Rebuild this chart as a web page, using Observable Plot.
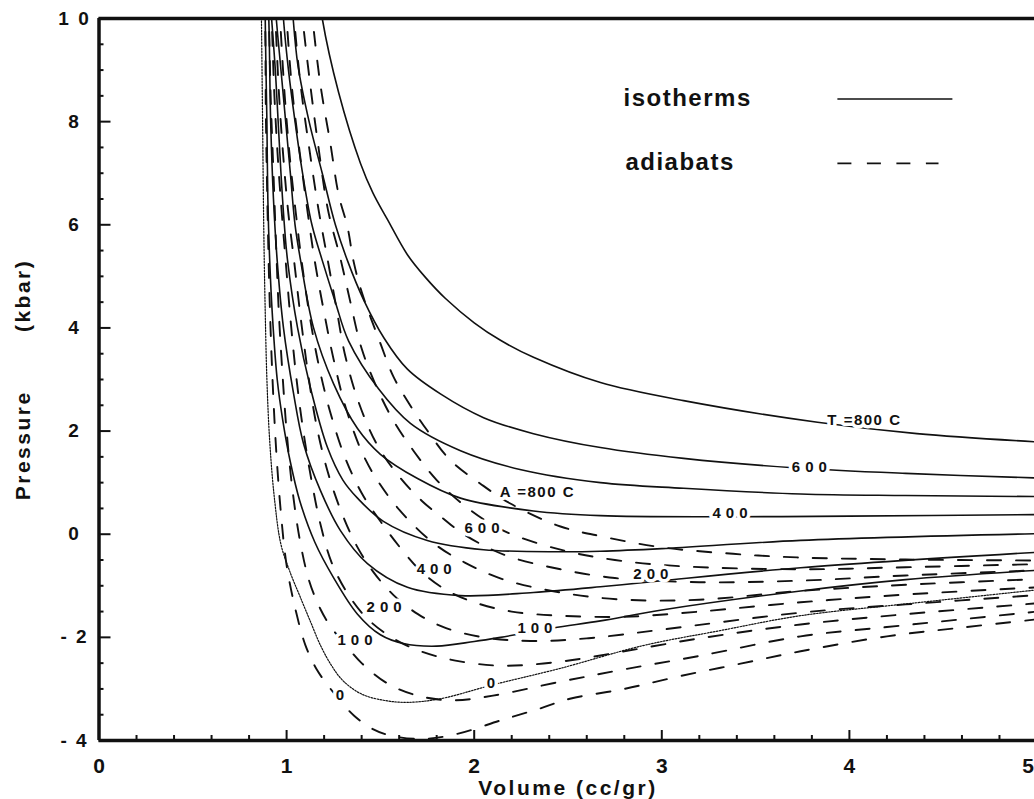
<!DOCTYPE html>
<html>
<head>
<meta charset="utf-8">
<script src="https://cdn.jsdelivr.net/npm/d3@7"></script>
<script src="https://cdn.jsdelivr.net/npm/@observablehq/plot@0.6"></script>
<style>
  html, body { margin: 0; padding: 0; background: #fff; overflow: hidden; }
  #chart svg { display: block; }
</style>
</head>
<body>
<div id="chart"></div>
<script>
// Isotherms of water, volume (cc/gr) vs pressure (kbar); one array per temperature (°C)
const iso0 = [[0.865,10.3],[0.872,8],[0.878,6],[0.885,4.5],[0.895,3],[0.91,1.8],[0.935,0.7],[0.97,-0.2],[1.02,-0.75],[1.074,-1.23],[1.13,-1.72],[1.18,-2.15],[1.24,-2.55],[1.303,-2.85],[1.40,-3.1],[1.516,-3.22],[1.644,-3.26],[1.82,-3.19],[2.10,-2.92],[2.46,-2.6],[2.90,-2.16],[3.31,-1.87],[3.74,-1.58],[4.33,-1.34],[5.0,-1.08]];
const iso100 = [[0.885,10.3],[0.89,9],[0.895,8],[0.90,6.5],[0.91,5.3],[0.925,4.2],[0.95,3.0],[0.98,2.2],[1.02,1.4],[1.07,0.65],[1.15,-0.15],[1.25,-0.84],[1.378,-1.55],[1.50,-1.95],[1.623,-2.12],[1.80,-2.17],[2.0,-2.08],[2.14,-2.0],[2.42,-1.82],[2.673,-1.68],[3.0,-1.47],[3.74,-1.10],[4.3,-0.88],[5.0,-0.70]];
const iso200 = [[0.90,10.3],[0.905,10],[0.915,8],[0.93,6.5],[0.95,5.3],[0.983,4.01],[1.037,2.73],[1.09,1.76],[1.18,0.85],[1.287,0.07],[1.431,-0.57],[1.644,-1.03],[1.927,-1.19],[2.316,-1.13],[2.673,-1.02],[3.0,-0.90],[3.74,-0.65],[5.0,-0.35]];
const iso300 = [[0.915,10.3],[0.92,10],[0.94,9],[0.955,8],[0.97,7],[0.988,6],[1.005,5.31],[1.058,4.01],[1.127,2.84],[1.218,1.68],[1.30,1.05],[1.378,0.70],[1.516,0.25],[1.75,-0.12],[2.05,-0.30],[2.46,-0.34],[2.673,-0.33],[3.0,-0.28],[3.74,-0.12],[5.0,0.01]];
const iso400 = [[0.94,10.3],[0.945,10],[0.97,9],[0.995,8],[1.02,7],[1.045,6],[1.075,5.3],[1.143,4.01],[1.25,2.92],[1.378,2.05],[1.50,1.55],[1.698,1.08],[1.927,0.70],[2.316,0.45],[2.673,0.36],[3.39,0.34],[4.0,0.35],[5.0,0.38]];
const iso500 = [[0.978,10.3],[0.983,10],[1.01,9],[1.045,8],[1.085,7],[1.135,6],[1.19,5.31],[1.26,4.5],[1.33,3.75],[1.49,2.82],[1.66,2.15],[1.927,1.62],[2.25,1.25],[2.673,1.0],[3.116,0.89],[3.74,0.78],[4.3,0.75],[5.0,0.73]];
const iso600 = [[1.03,10.3],[1.035,10],[1.06,9.1],[1.12,8.0],[1.19,7.0],[1.26,6.0],[1.325,5.3],[1.41,4.55],[1.52,3.8],[1.644,3.2],[1.82,2.72],[2.05,2.26],[2.316,1.95],[2.673,1.68],[3.116,1.47],[3.70,1.29],[4.3,1.18],[5.0,1.09]];
const iso800 = [[1.18,10.3],[1.19,10],[1.277,8.57],[1.394,7.19],[1.46,6.62],[1.538,6.1],[1.644,5.42],[1.74,4.98],[1.847,4.57],[2.0,4.1],[2.14,3.76],[2.316,3.43],[2.673,2.94],[3.116,2.59],[3.83,2.17],[4.36,1.95],[5.0,1.79]];

// Adiabats, one array per starting temperature (°C)
const ad0 = [[0.88,10.3],[0.885,10],[0.89,8],[0.90,6],[0.91,4.5],[0.925,3],[0.945,1.6],[0.97,0.4],[1.0,-0.6],[1.05,-1.5],[1.10,-2.15],[1.16,-2.62],[1.22,-2.93],[1.29,-3.25],[1.36,-3.52],[1.45,-3.76],[1.55,-3.9],[1.72,-3.97],[1.90,-3.88],[2.15,-3.6],[2.35,-3.38],[2.51,-3.19],[2.8,-3.0],[3.1,-2.75],[3.42,-2.51],[3.74,-2.27],[4.2,-1.98],[4.6,-1.81],[5.0,-1.65]];
const ad100 = [[0.90,10.3],[0.905,10],[0.915,8.5],[0.93,7],[0.945,5.5],[0.96,4.2],[0.98,3.0],[1.0,2.0],[1.03,0.9],[1.07,-0.1],[1.12,-0.9],[1.18,-1.45],[1.24,-1.82],[1.30,-2.08],[1.40,-2.5],[1.55,-2.92],[1.72,-3.15],[1.90,-3.22],[2.1,-3.13],[2.46,-2.86],[2.8,-2.62],[3.2,-2.36],[3.74,-1.98],[4.2,-1.80],[4.6,-1.65],[5.0,-1.50]];
const ad200 = [[0.915,10.3],[0.92,10],[0.935,8.5],[0.955,7.2],[0.975,6.2],[0.995,5.3],[1.02,4.2],[1.05,3.1],[1.085,2.1],[1.13,1.1],[1.18,0.2],[1.24,-0.55],[1.32,-1.12],[1.42,-1.6],[1.55,-1.98],[1.70,-2.25],[1.90,-2.45],[2.15,-2.55],[2.46,-2.47],[2.8,-2.27],[3.2,-2.02],[3.74,-1.75],[4.3,-1.55],[5.0,-1.34]];
const ad300 = [[0.935,10.3],[0.94,10],[0.96,8.5],[0.985,7.2],[1.01,6.2],[1.04,5.3],[1.075,4.2],[1.115,3.1],[1.16,2.1],[1.22,1.2],[1.29,0.45],[1.37,-0.2],[1.46,-0.72],[1.57,-1.18],[1.70,-1.55],[1.85,-1.82],[2.05,-2.0],[2.3,-2.07],[2.6,-2.02],[3.0,-1.85],[3.74,-1.52],[4.3,-1.36],[5.0,-1.18]];
const ad400 = [[0.96,10.3],[0.965,10],[0.99,8.5],[1.02,7.2],[1.05,6.2],[1.08,5.3],[1.12,4.3],[1.17,3.3],[1.23,2.4],[1.31,1.5],[1.40,0.8],[1.50,0.25],[1.61,-0.28],[1.72,-0.73],[1.85,-1.08],[2.0,-1.32],[2.2,-1.50],[2.46,-1.58],[2.8,-1.60],[3.2,-1.50],[3.74,-1.32],[4.3,-1.17],[5.0,-1.03]];
const ad500 = [[0.995,10.3],[1.0,10],[1.03,8.6],[1.07,7.4],[1.11,6.3],[1.15,5.3],[1.20,4.3],[1.25,3.4],[1.32,2.4],[1.42,1.45],[1.54,0.75],[1.67,0.20],[1.80,-0.22],[1.95,-0.55],[2.15,-0.87],[2.46,-1.13],[2.8,-1.27],[3.2,-1.27],[3.74,-1.10],[4.3,-0.98],[5.0,-0.87]];
const ad600 = [[1.035,10.3],[1.04,10],[1.075,8.7],[1.12,7.5],[1.17,6.3],[1.22,5.3],[1.265,4.4],[1.31,3.5],[1.38,2.6],[1.48,1.75],[1.60,1.12],[1.72,0.65],[1.836,0.30],[1.916,0.07],[2.05,-0.22],[2.2,-0.45],[2.46,-0.68],[2.75,-0.85],[3.2,-0.93],[3.74,-0.90],[4.3,-0.80],[5.0,-0.70]];
const ad700 = [[1.078,10.3],[1.085,10],[1.128,8.66],[1.17,7.5],[1.22,6.3],[1.29,5.3],[1.34,4.5],[1.40,3.6],[1.48,2.85],[1.57,2.2],[1.68,1.6],[1.80,1.05],[1.95,0.55],[2.15,0.08],[2.46,-0.30],[2.75,-0.50],[3.1,-0.62],[3.74,-0.68],[4.3,-0.64],[5.0,-0.58]];
const ad800 = [[1.13,10.3],[1.138,10],[1.18,8.72],[1.234,7.56],[1.277,6.59],[1.325,5.95],[1.357,5.29],[1.40,4.70],[1.50,3.70],[1.57,3.05],[1.65,2.55],[1.75,2.01],[1.874,1.43],[2.033,0.98],[2.19,0.60],[2.46,0.15],[2.69,-0.05],[2.99,-0.25],[3.38,-0.38],[3.72,-0.45],[4.3,-0.49],[5.0,-0.51]];

const isoTemps = [0, 100, 200, 300, 400, 500, 600, 800];
const isoCurves = [iso0, iso100, iso200, iso300, iso400, iso500, iso600, iso800];
const adTemps = [0, 100, 200, 300, 400, 500, 600, 700, 800];
const adCurves = [ad0, ad100, ad200, ad300, ad400, ad500, ad600, ad700, ad800];

// Curve labels (text and anchor in volume / pressure)
const isoLabelText = ["T =800 C", "600", "400", "200", "100", "0"];
const isoLabelV = [4.08, 3.80, 3.377, 2.955, 2.337, 2.103];
const isoLabelP = [2.22, 1.29, 0.40, -0.78, -1.83, -2.88];
const adLabelText = ["A =800 C", "600", "400", "200", "100", "0"];
const adLabelV = [2.337, 2.055, 1.80, 1.533, 1.378, 1.298];
const adLabelP = [0.81, 0.11, -0.67, -1.42, -2.06, -3.13];

// Axis ticks and their labels
const xTickValues = [0, 1, 2, 3, 4, 5];
const xTickLabels = ["0", "1", "2", "3", "4", "5"];
const yTickValues = [10, 8, 6, 4, 2, 0, -2, -4];
const yTickLabels = ["1 0", "8", "6", "4", "2", "0", "- 2", "- 4"];
const xMinorTicks = d3.range(0, 5.01, 0.2).filter(v => Math.abs(v - Math.round(v)) > 1e-6);
const yMinorTicks = d3.range(-4, 10.01, 0.5).filter(v => Math.abs(v / 2 - Math.round(v / 2)) > 1e-6);

const toRows = (temps, curves) =>
  temps.flatMap((t, i) => curves[i].map(([V, P]) => ({V, P, T: t})));
const isoRows = toRows(isoTemps, isoCurves);
const adRows = toRows(adTemps, adCurves);
const isoLabels = isoLabelText.map((text, i) => ({text, V: isoLabelV[i], P: isoLabelP[i]}));
const adLabels = adLabelText.map((text, i) => ({text, V: adLabelV[i], P: adLabelP[i]}));
const allLabels = isoLabels.concat(adLabels);
const isNumber = d => /^\d+$/.test(d.text);
const xTicks = xTickValues.map((v, i) => ({v, text: xTickLabels[i]}));

const FONT = "'Liberation Sans', Arial, Helvetica, sans-serif";
const INK = "#111";

// wraps a text mark so that its group carries a letter-spacing
function spaced(mark, ls) {
  const render = mark.render;
  mark.render = function (...args) {
    const g = render.apply(this, args);
    if (g) g.setAttribute("letter-spacing", ls);
    return g;
  };
  return mark;
}

const labelStyle = {
  x: "V", y: "P", text: "text", fontSize: 15, fontWeight: "bold", fill: INK,
  stroke: "white", strokeWidth: 7, strokeLinejoin: "round", paintOrder: "stroke", fontFamily: FONT
};
const tickLabelStyle = {
  x: "v", text: "text", frameAnchor: "bottom", lineAnchor: "middle", dy: 26,
  fontSize: 21, fontWeight: "bold", fill: INK
};

const chart = Plot.plot({
  width: 1034,
  height: 799,
  marginLeft: 98.5,
  marginRight: -2.5,
  marginTop: 18,
  marginBottom: 59,
  style: {fontFamily: FONT, background: "white", color: INK},
  x: {domain: [0, 5], axis: null},
  y: {domain: [-4, 10], axis: null},
  marks: [
    // isotherms (0 °C drawn fine-dotted)
    Plot.line(isoRows.filter(d => d.T !== 0), {x: "V", y: "P", z: "T", curve: "catmull-rom", stroke: INK, strokeWidth: 1.6, clip: true}),
    Plot.line(isoRows.filter(d => d.T === 0), {x: "V", y: "P", z: "T", curve: "catmull-rom", stroke: INK, strokeWidth: 1.2, strokeDasharray: "1.6,1.4", clip: true}),
    // adiabats
    Plot.line(adRows, {x: "V", y: "P", z: "T", curve: "catmull-rom", stroke: INK, strokeWidth: 1.9, strokeDasharray: "14,15", clip: true}),
    // curve labels: plain temperatures spaced wide, the "=800 C" ones tighter
    spaced(Plot.text(allLabels.filter(isNumber), labelStyle), "5px"),
    spaced(Plot.text(allLabels.filter(d => !isNumber(d)), labelStyle), "1.5px"),
    // frame
    Plot.ruleY([-4], {stroke: INK, strokeWidth: 3.5}),
    Plot.ruleY([10], {stroke: INK, strokeWidth: 3.5}),
    Plot.ruleX([0], {stroke: INK, strokeWidth: 3.5}),
    // inward ticks
    Plot.axisX(xTickValues, {anchor: "bottom", tickSize: -10, tickFormat: () => "", label: null, strokeWidth: 2}),
    Plot.axisX(xMinorTicks, {anchor: "bottom", tickSize: -5, tickFormat: () => "", label: null, strokeWidth: 2}),
    Plot.axisY(yTickValues, {anchor: "left", tickSize: -12, tickFormat: () => "", label: null, strokeWidth: 2}),
    Plot.axisY(yMinorTicks, {anchor: "left", tickSize: -5, tickFormat: () => "", label: null, strokeWidth: 2}),
    // tick labels (the last x label pulled in so it stays on the page)
    Plot.text(xTicks.filter(d => d.v < 5), tickLabelStyle),
    Plot.text(xTicks.filter(d => d.v === 5), {...tickLabelStyle, dx: -9}),
    spaced(Plot.text(yTickValues, {y: d => d, frameAnchor: "left", dx: -24.5, textAnchor: "middle", lineAnchor: "middle", text: (d, i) => yTickLabels[i], fontSize: 19, fontWeight: "bold", fill: INK}), "2px"),
    // axis titles
    spaced(Plot.text(["Volume (cc/gr)"], {frameAnchor: "bottom", textAnchor: "middle", lineAnchor: "middle", dy: 48, text: d => d, fontSize: 21, fontWeight: "bold", fill: INK}), "2.5px"),
    spaced(Plot.text(["Pressure\u00a0\u00a0\u00a0\u00a0\u00a0\u00a0\u00a0(kbar)"], {frameAnchor: "left", textAnchor: "middle", lineAnchor: "middle", dx: -76, rotate: -90, text: d => d, fontSize: 21, fontWeight: "bold", fill: INK}), "2.5px"),
    // legend
    spaced(Plot.text(["isotherms"], {x: () => 2.796, y: () => 8.45, text: d => d, textAnchor: "start", fontSize: 24, fontWeight: "bold", fill: INK}), "1.5px"),
    spaced(Plot.text(["adiabats"], {x: () => 2.806, y: () => 7.21, text: d => d, textAnchor: "start", fontSize: 24, fontWeight: "bold", fill: INK}), "1.5px"),
    Plot.link([0], {x1: () => 3.936, x2: () => 4.549, y1: () => 8.44, y2: () => 8.44, stroke: INK, strokeWidth: 1.6}),
    Plot.link([0], {x1: () => 3.936, x2: () => 4.475, y1: () => 7.19, y2: () => 7.19, stroke: INK, strokeWidth: 1.9, strokeDasharray: "14,15.5"})
  ]
});

document.getElementById("chart").appendChild(chart);
</script>
</body>
</html>
